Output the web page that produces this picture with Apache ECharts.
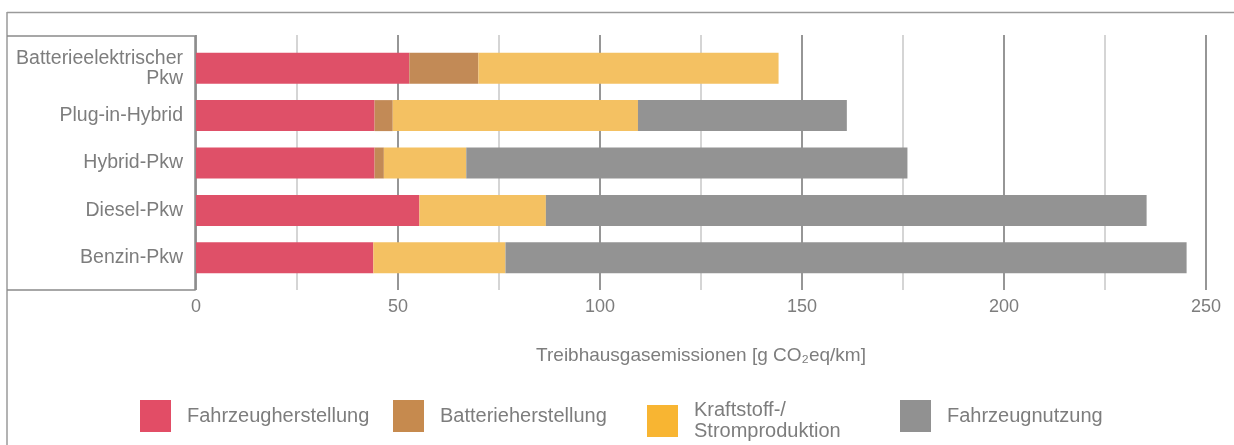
<!DOCTYPE html>
<html>
<head>
<meta charset="utf-8">
<script src="https://cdn.jsdelivr.net/npm/echarts@6/dist/echarts.min.js"></script>
<style>
  html, body { margin: 0; padding: 0; background: #fff; }
  #chart { width: 1234px; height: 445px; }
</style>
</head>
<body>
<div id="chart"></div>
<script>
  // categories, top to bottom
  const categories = ['Batterieelektrischer\nPkw', 'Plug-in-Hybrid', 'Hybrid-Pkw', 'Diesel-Pkw', 'Benzin-Pkw']
  // g CO2eq/km per component
  const fahrzeugherstellung = [52.8, 44.2, 44.2, 55.3, 43.9]
  const batterieherstellung = [17.1, 4.5, 2.3, 0, 0]
  const kraftstoffStrom = [74.3, 60.7, 20.4, 31.3, 32.7]
  const fahrzeugnutzung = [0, 51.7, 109.2, 148.7, 168.6]
  const seriesNames = ['Fahrzeugherstellung', 'Batterieherstellung', 'Kraftstoff-/\nStromproduktion', 'Fahrzeugnutzung']
  const xTicks = [0, 50, 100, 150, 200, 250]

  const font = 'Liberation Sans, Arial, sans-serif'
  const textGray = '#7d7d7d'
  const barColors = ['#df5068', '#c28a56', '#f4c162', '#939393']
  const legendColors = ['#e24d66', '#c68a4e', '#f8b532', '#919191']
  const legendLeft = [140, 393, 647, 900]

  const chart = echarts.init(document.getElementById('chart'))

  const barItem = { type: 'bar', stack: 'total', barWidth: 31, xAxisIndex: 1, yAxisIndex: 1, silent: true }
  const values = [fahrzeugherstellung, batterieherstellung, kraftstoffStrom, fahrzeugnutzung]

  const options = {
    backgroundColor: '#fff',
    animation: false,
    textStyle: { fontFamily: font },
    grid: [
      { left: 196, width: 1010, top: 35, height: 255 },
      { left: 196, width: 1010, top: 44.5, height: 237 },
    ],
    legend: seriesNames.map((n, i) => ({
      data: [{ name: n, itemStyle: { color: legendColors[i] } }],
      left: legendLeft[i],
      top: 400,
      padding: 0,
      itemWidth: 31,
      itemHeight: 32,
      icon: 'rect',
      selectedMode: false,
      textStyle: { color: textGray, fontSize: 20, lineHeight: 21, fontFamily: font, padding: [0, 0, 0, 11] },
    })),
    xAxis: [
      {
        gridIndex: 0,
        type: 'value',
        min: 0,
        max: 250,
        interval: 25,
        axisLine: { show: false },
        axisTick: { show: false },
        axisLabel: {
          color: textGray,
          fontSize: 18,
          margin: 8,
          formatter: v => (xTicks.indexOf(v) >= 0 ? String(v) : ''),
        },
        splitLine: { show: true, lineStyle: { color: ['#7c7c7c', '#cbcbcb'], width: 1.6 } },
        name: 'Treibhausgasemissionen [g CO₂eq/km]',
        nameLocation: 'middle',
        nameGap: 56,
        nameTextStyle: { color: textGray, fontSize: 19, fontFamily: font },
      },
      {
        gridIndex: 1,
        type: 'value',
        min: 0,
        max: 250,
        show: false,
      },
    ],
    yAxis: [
      { gridIndex: 0, type: 'category', data: categories, show: false },
      {
        gridIndex: 1,
        type: 'category',
        data: categories,
        inverse: true,
        axisLine: { show: false },
        axisTick: { show: false },
        axisLabel: { color: textGray, fontSize: 19.5, lineHeight: 20, margin: 13, align: 'right' },
      },
    ],
    graphic: [
      { type: 'line', z: 100, shape: { x1: 7, y1: 12.5, x2: 1234, y2: 12.5 }, style: { stroke: '#9a9a9a', lineWidth: 1.5 } },
      { type: 'line', z: 100, shape: { x1: 7, y1: 12, x2: 7, y2: 445 }, style: { stroke: '#9a9a9a', lineWidth: 1.5 } },
      { type: 'polyline', z: 100, shape: { points: [[7, 36], [195, 36], [195, 290], [7, 290]] }, style: { stroke: '#8a8a8a', lineWidth: 1.5, fill: null } },
    ],
    series: seriesNames.map((n, i) => ({
      ...barItem,
      name: n,
      itemStyle: { color: barColors[i] },
      data: values[i],
    })),
  }
  chart.setOption(options)
</script>
</body>
</html>
